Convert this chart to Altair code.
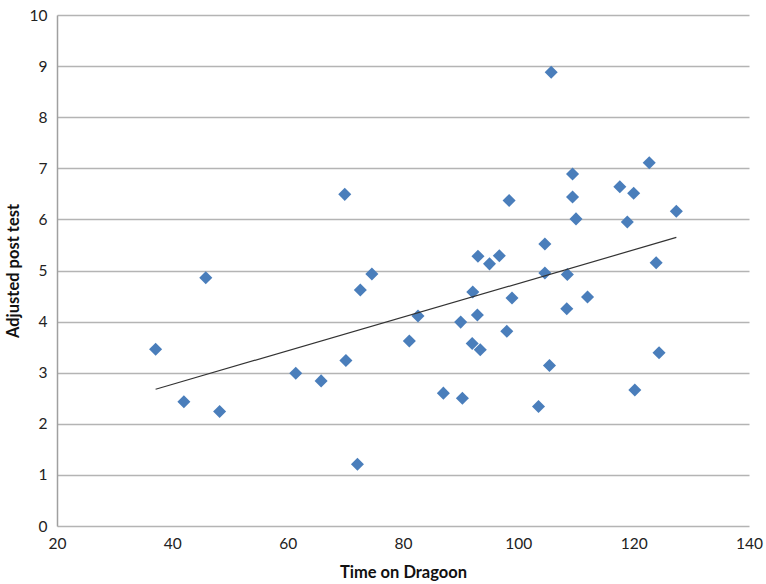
import altair as alt
import pandas as pd

time_on_dragoon = [37.1, 42.0, 48.2, 61.4, 65.8, 70.1, 72.1,
                   45.8, 69.9, 74.6, 72.6,
                   105.7, 122.7, 109.4, 109.4, 117.6, 120.0, 98.4, 110.0, 118.9, 127.4,
                   104.6, 93.0, 95.0, 96.7, 123.9, 104.6, 108.5,
                   92.1, 98.9, 112.0, 82.6, 92.9, 90.0, 108.4, 98.0, 81.1, 92.0, 93.4,
                   124.4, 105.4, 87.0, 90.3, 103.5, 120.2]
adjusted_post_test = [3.46, 2.43, 2.24, 2.99, 2.84, 3.24, 1.21,
                      4.86, 6.49, 4.93, 4.62,
                      8.88, 7.11, 6.89, 6.44, 6.64, 6.51, 6.37, 6.01, 5.95, 6.16,
                      5.52, 5.28, 5.13, 5.29, 5.15, 4.95, 4.92,
                      4.58, 4.46, 4.48, 4.11, 4.13, 3.99, 4.25, 3.81, 3.62, 3.57, 3.45,
                      3.39, 3.14, 2.60, 2.50, 2.34, 2.66]

df = pd.DataFrame({"x": time_on_dragoon, "y": adjusted_post_test})

FONT = "Lato"

x_enc = alt.X("x:Q", scale=alt.Scale(domain=[20, 140], nice=False),
              axis=alt.Axis(title="Time on Dragoon", values=[20, 40, 60, 80, 100, 120, 140],
                            grid=False, ticks=False, domain=False, labelFlush=False,
                            labelFontSize=15.5, labelColor="#222222", labelFont=FONT,
                            labelPadding=10, titleFont=FONT, titleFontSize=16.5,
                            titleFontWeight="bold", titleColor="#111111", titlePadding=13))
y_enc = alt.Y("y:Q", scale=alt.Scale(domain=[0, 10], nice=False),
              axis=alt.Axis(title="Adjusted post test", values=list(range(0, 11)),
                            grid=True, gridColor="#b4b4b4", gridWidth=1.5,
                            ticks=False, domain=True, domainColor="#a0a0a0", domainWidth=1.5,
                            labelFlush=False,
                            labelFontSize=15.5, labelColor="#222222", labelFont=FONT,
                            labelPadding=10, titleFont=FONT, titleFontSize=16.5,
                            titleFontWeight="bold", titleColor="#111111", titlePadding=8))

points = alt.Chart(df).mark_point(shape="diamond", filled=True, size=170,
                                  color="#4a7ebb", opacity=1).encode(x=x_enc, y=y_enc)

trend = alt.Chart(df).mark_line(color="#333333", strokeWidth=1.2).transform_regression(
    "x", "y").encode(x="x:Q", y="y:Q")

chart = alt.layer(points, trend).properties(
    width=692, height=511,
    autosize=alt.AutoSizeParams(type="none"),
    padding={"left": 57, "top": 15, "right": 17, "bottom": 58},
).configure_view(stroke=None)

chart.save("out.html", embed_options={"renderer": "svg", "actions": False})
